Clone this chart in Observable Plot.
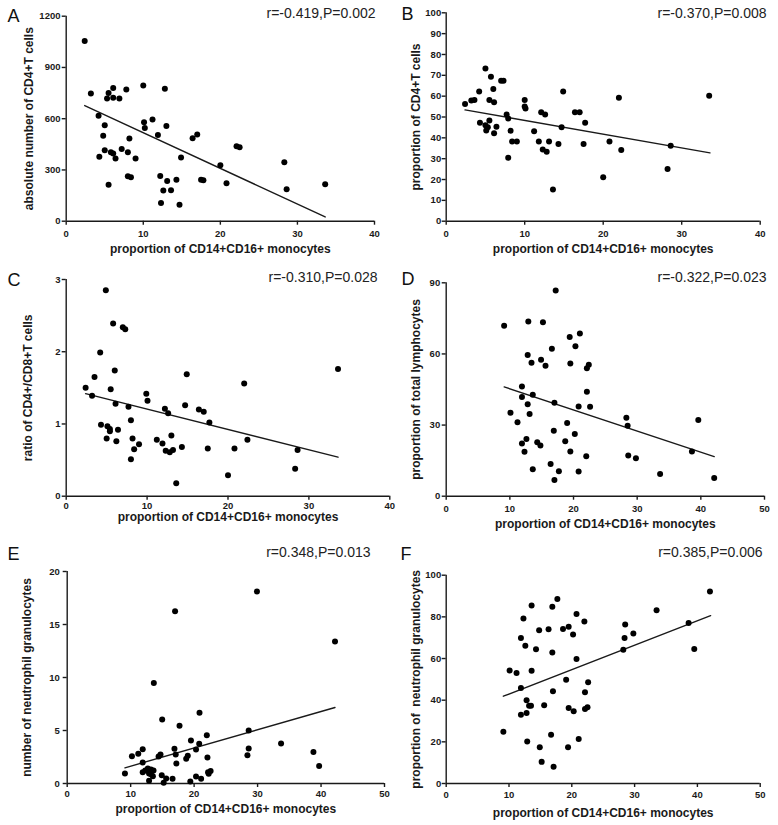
<!DOCTYPE html>
<html><head><meta charset="utf-8">
<script src="https://cdn.jsdelivr.net/npm/d3@7"></script>
<script src="https://cdn.jsdelivr.net/npm/@observablehq/plot@0.6"></script>
<style>
html,body{margin:0;padding:0;background:#fff;}
#wrap{position:relative;width:778px;height:825px;overflow:hidden;background:#fff;}
#wrap svg{position:absolute;overflow:visible;background:transparent;}
</style></head><body><div id="wrap"></div>
<script>
// ---- shared labels ----
const xLabel = "proportion of CD14+CD16+ monocytes";
const letters = ["A","B","C","D","E","F"];
const yLabels = ["absolute number of CD4+T cells","proportion of CD4+T cells","ratio of CD4+/CD8+T cells","proportion of total lymphocytes","number of neutrophil granulocytes","proportion of \u00a0neutrophil granulocytes"];
const stats = ["r=-0.419,P=0.002","r=-0.370,P=0.008","r=-0.310,P=0.028","r=-0.322,P=0.023","r=0.348,P=0.013","r=0.385,P=0.006"];

// ---- ticks ----
const xTicks40 = [0,10,20,30,40];
const xTicks50 = [0,10,20,30,40,50];
const yTicksA = [0,300,600,900,1200];
const yTicksB = [0,10,20,30,40,50,60,70,80,90,100];
const yTicksC = [0,1,2,3];
const yTicksD = [0,30,60,90];
const yTicksE = [0,5,10,15,20];
const yTicksF = [0,20,40,60,80,100];

// ---- panel A ----
const xA = [2.4,3.2,5.5,6.1,7.8,5.3,6.1,6.9,10.0,12.8,4.2,10.1,11.2,10.2,13.0,5.0,4.8,11.9,8.2,16.4,17.0,22.1,22.5,5.0,5.8,6.1,7.2,8.0,6.4,9.0,4.3,14.9,20.0,28.3,8.0,8.4,12.2,13.1,14.3,17.5,17.8,20.8,33.6,5.5,12.6,13.6,28.6,12.3,14.7];
const yA = [1055,747,751,780,771,718,722,718,794,775,618,579,595,546,558,562,500,505,484,486,507,439,433,416,404,396,423,404,367,367,377,373,328,345,263,258,265,236,242,242,240,222,217,213,180,181,187,107,96];
const fitAx = [2.4,33.6], fitAy = [677,25];

// ---- panel B ----
const xB = [2.4,3.2,3.6,4.2,5.0,4.3,5.0,5.3,5.1,5.5,5.5,5.7,6.0,6.1,6.1,6.4,7.0,7.3,7.7,7.9,7.9,8.2,8.4,9.0,10.0,10.0,10.1,11.2,11.8,12.1,12.6,12.3,12.8,13.1,13.6,14.3,14.7,14.9,16.4,17.0,17.7,17.5,20.0,20.8,22.0,22.3,28.2,28.6,33.5];
const yB = [56.2,57.9,58.2,62.2,73.3,47.2,46.1,45.1,43.5,48.3,58.2,69.3,63.4,57.1,42.2,45.3,67.4,67.4,51.2,49.3,30.4,43.4,38.2,38.2,58.2,55.0,54.1,43.2,38.2,52.3,51.2,34.4,33.3,38.2,15.2,37.1,45.1,62.2,52.3,52.3,47.2,37.1,21.1,38.2,59.2,34.2,25.1,36.2,60.2];
const fitBx = [2.4,33.6], fitBy = [53.4,32.8];

// ---- panel C ----
const xC = [2.4,3.2,3.5,4.2,4.9,4.3,5.1,5.0,5.4,5.5,5.8,6.0,6.1,5.4,6.2,6.4,7.0,7.3,7.7,8.0,8.2,8.0,8.4,9.0,9.9,10.05,11.2,11.9,12.2,12.6,12.3,12.8,13.0,13.2,13.6,14.3,14.7,14.9,16.4,17.0,17.5,17.7,20.0,20.8,22.0,22.4,28.3,28.6,33.6];
const yC = [1.50,1.39,1.65,1.99,2.85,0.99,0.97,0.80,0.93,1.48,2.39,1.74,1.28,0.90,0.76,0.92,2.34,2.31,1.24,1.05,0.80,0.51,0.65,0.72,1.42,1.32,0.78,0.73,1.21,1.15,0.63,0.61,0.84,0.64,0.18,0.68,1.26,1.69,1.20,1.17,0.66,1.02,0.29,0.66,1.56,0.78,0.38,0.64,1.76];
const fitCx = [2.4,33.6], fitCy = [1.42,0.54];

// ---- panel D ----
const xD = [9.1,12.9,15.2,17.2,19.4,21.0,20.3,16.6,12.8,13.4,14.9,15.6,19.5,22.1,22.4,11.9,11.9,13.6,22.1,17.0,12.8,20.8,22.6,10.1,13.1,11.2,19.0,28.3,28.5,39.6,16.9,20.2,12.6,11.9,14.3,14.8,18.7,12.3,19.5,22.0,28.6,29.8,38.6,16.4,13.6,17.7,20.8,17.0,33.6,42.1];
const yD = [71.9,73.7,73.4,86.8,67.1,68.6,63.2,62.2,59.6,56.3,57.5,55.0,56.0,54.0,55.4,46.3,41.8,42.8,44.0,39.4,38.8,37.8,37.7,35.2,34.7,31.2,30.9,33.1,29.7,32.1,27.6,26.2,24.1,22.2,22.8,21.4,23.2,18.7,18.8,16.9,17.2,16.0,18.8,13.6,11.4,10.5,10.4,6.8,9.4,7.7];
const fitDx = [9.1,42.1], fitDy = [46.1,16.7];

// ---- panel E ----
const xE = [17.0,29.9,42.2,13.65,20.85,14.97,17.7,28.6,19.5,22.0,20.8,33.7,38.8,39.7,28.6,28.4,11.2,10.2,11.9,16.9,20.3,14.7,14.4,17.1,19.0,18.75,22.1,11.9,17.2,9.1,11.9,12.3,12.7,13.2,13.6,12.9,13.2,13.5,12.9,14.9,15.6,15.2,16.6,19.4,20.3,21.1,22.3,22.6,22.2];
const yE = [16.26,18.11,13.4,9.47,6.67,6.04,5.44,5.0,4.06,4.56,3.74,3.77,2.96,1.64,3.30,2.67,2.80,2.58,3.24,3.27,3.21,2.74,2.55,2.74,2.61,2.33,2.45,1.98,1.89,0.94,1.07,1.23,1.42,1.32,1.23,0.94,0.88,0.69,0.25,0.79,0.47,0.06,0.44,0.19,0.66,0.44,0.91,1.19,1.07];
const fitEx = [9.1,42.2], fitEy = [1.48,7.17];

// ---- panel F ----
const xF = [9.1,10.1,11.2,11.9,12.3,12.6,11.9,11.9,12.8,12.8,12.9,13.2,13.5,13.6,13.6,14.3,14.8,14.9,15.2,15.6,16.3,16.7,16.9,16.9,17.0,17.1,17.7,18.6,19.1,19.5,19.5,19.4,20.2,20.3,20.75,20.75,21.1,22.0,22.1,22.1,22.5,22.6,28.2,28.4,28.5,29.8,33.5,38.6,39.5,42.0];
const yF = [24.8,54.2,53.1,69.9,79.2,66.1,45.8,33.0,40.0,33.9,20.2,37.3,37.3,85.4,54.1,64.5,73.6,17.4,10.4,37.6,74.1,23.4,62.9,84.8,44.3,8.0,88.6,74.2,49.8,75.2,36.3,17.4,71.5,34.7,81.4,59.8,21.4,77.8,43.8,35.8,36.6,48.6,64.2,69.8,76.3,72.0,83.2,77.1,64.6,92.2];
const fitFx = [9.1,42.1], fitFy = [41.9,80.6];

// ---- layout (page pixel coordinates) ----
const FONT = "'Liberation Sans', Arial, Helvetica, sans-serif";
const layout = [
  {box:{x:0,y:0,w:389,h:270}, frame:{l:65.7,r:374,t:15.7,b:220.7}, letter:[7,21], stat:[375,17], yl:28.3, xl:248.9, xPad:4.6, yPad:1.7},
  {box:{x:389,y:0,w:389,h:270}, frame:{l:445.7,r:759.7,t:12.3,b:220.7}, letter:[401,19.5], stat:[766,17], yl:415.3, xl:248.9, xPad:4.6, yPad:1},
  {box:{x:0,y:270,w:389,h:275}, frame:{l:65.7,r:389.3,t:279,b:495.7}, letter:[7,285], stat:[377,281], yl:27.3, xl:516.5, xPad:2, yPad:1.7},
  {box:{x:389,y:270,w:389,h:275}, frame:{l:445.7,r:764,t:282.3,b:495.7}, letter:[401,284], stat:[766,281], yl:415.3, xl:523.9, xPad:4.6, yPad:2},
  {box:{x:0,y:545,w:389,h:280}, frame:{l:66.7,r:384,t:571,b:783}, letter:[7,559], stat:[370,556], yl:26.3, xl:808.9, xPad:3, yPad:3.4},
  {box:{x:389,y:545,w:389,h:280}, frame:{l:445.7,r:759.7,t:574.7,b:783}, letter:[400,559], stat:[762,556], yl:415.3, xl:812.8, xPad:4, yPad:1}
];

const series = [
  {xs:xA, ys:yA, fx:fitAx, fy:fitAy, xd:[0,40], yd:[0,1200], xt:xTicks40, yt:yTicksA},
  {xs:xB, ys:yB, fx:fitBx, fy:fitBy, xd:[0,40], yd:[0,100], xt:xTicks40, yt:yTicksB},
  {xs:xC, ys:yC, fx:fitCx, fy:fitCy, xd:[0,40], yd:[0,3], xt:xTicks40, yt:yTicksC},
  {xs:xD, ys:yD, fx:fitDx, fy:fitDy, xd:[0,50], yd:[0,90], xt:xTicks50, yt:yTicksD},
  {xs:xE, ys:yE, fx:fitEx, fy:fitEy, xd:[0,50], yd:[0,20], xt:xTicks50, yt:yTicksE},
  {xs:xF, ys:yF, fx:fitFx, fy:fitFy, xd:[0,50], yd:[0,100], xt:xTicks50, yt:yTicksF}
];

const wrap = document.getElementById("wrap");
const INK = "#1a1a1a";
const plain = d => String(d);

series.forEach((s, i) => {
  const L = layout[i];
  const {box, frame} = L;
  const points = s.xs.map((x, k) => ({x, y: s.ys[k]}));
  const fit = s.fx.map((x, k) => ({x, y: s.fy[k]}));
  const svg = Plot.plot({
    width: box.w, height: box.h,
    marginLeft: frame.l - box.x,
    marginRight: box.x + box.w - frame.r,
    marginTop: frame.t - box.y,
    marginBottom: box.y + box.h - frame.b,
    x: {domain: s.xd},
    y: {domain: s.yd},
    style: {fontFamily: FONT, overflow: "visible", background: "transparent"},
    marks: [
      Plot.axisX({ticks: s.xt, tickFormat: plain, tickSize: 4, tickPadding: L.xPad, fontSize: 9.5, fontWeight: "bold", stroke: INK, strokeWidth: 1.4, fill: INK, label: null}),
      Plot.axisY({ticks: s.yt, tickFormat: plain, tickSize: 4, tickPadding: L.yPad, fontSize: 9.5, fontWeight: "bold", stroke: INK, strokeWidth: 1.4, fill: INK, label: null}),
      Plot.ruleX([s.xd[0]], {stroke: INK, strokeWidth: 1.4}),
      Plot.ruleY([s.yd[0]], {stroke: INK, strokeWidth: 1.4}),
      Plot.line(fit, {x: "x", y: "y", stroke: INK, strokeWidth: 1.4}),
      Plot.dot(points, {x: "x", y: "y", r: 3, fill: "#000", stroke: null}),
      Plot.text([xLabel], {text: d => d, frameAnchor: "bottom", dy: L.xl - frame.b, lineAnchor: "middle", textAnchor: "middle", fontSize: 12, fontWeight: "bold", fill: INK}),
      Plot.text([yLabels[i]], {text: d => d, frameAnchor: "left", dx: L.yl - frame.l, rotate: -90, lineAnchor: "middle", textAnchor: "middle", fontSize: 12, fontWeight: "bold", fill: INK}),
      Plot.text([stats[i]], {text: d => d, frameAnchor: "top-right", dx: L.stat[0] - frame.r, dy: L.stat[1] - frame.t, textAnchor: "end", lineAnchor: "bottom", fontSize: 14, fill: "#222"}),
      Plot.text([letters[i]], {text: d => d, frameAnchor: "top-left", dx: L.letter[0] - frame.l, dy: L.letter[1] - frame.t, textAnchor: "start", lineAnchor: "bottom", fontSize: 18, fill: "#111"})
    ]
  });
  svg.style.left = box.x + "px";
  svg.style.top = box.y + "px";
  svg.style.maxWidth = "none";
  wrap.appendChild(svg);
});
</script>
</body></html>
